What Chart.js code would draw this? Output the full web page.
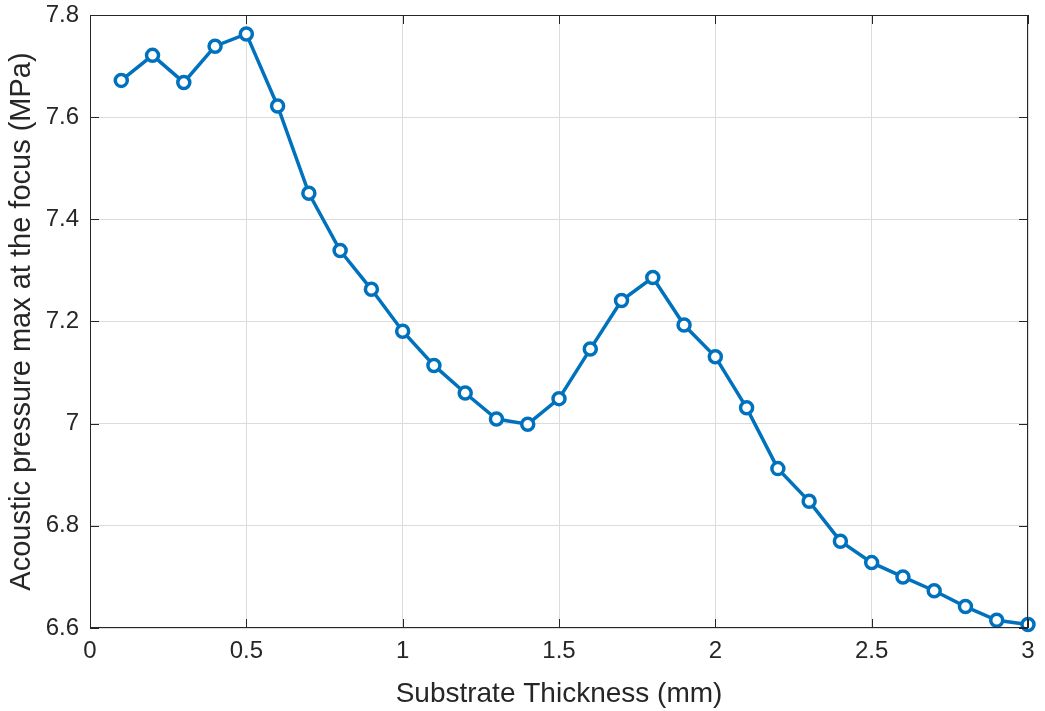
<!DOCTYPE html>
<html>
<head>
<meta charset="utf-8">
<script src="https://cdn.jsdelivr.net/npm/chart.js@4"></script>
<style>
  html, body { margin: 0; padding: 0; background: #fff; }
  #box { width: 1045px; height: 711px; }
</style>
</head>
<body>
<div id="box"><canvas id="grafico" width="1045" height="711"></canvas></div>
<script>
// Dados
var espessura = [0.1, 0.2, 0.3, 0.4, 0.5, 0.6, 0.7, 0.8, 0.9, 1.0,
                 1.1, 1.2, 1.3, 1.4, 1.5, 1.6, 1.7, 1.8, 1.9, 2.0,
                 2.1, 2.2, 2.3, 2.4, 2.5, 2.6, 2.7, 2.8, 2.9, 3.0];
var pressao = [7.672, 7.721, 7.668, 7.739, 7.763, 7.622, 7.451, 7.339, 7.263, 7.181,
               7.114, 7.060, 7.009, 6.999, 7.049, 7.146, 7.241, 7.286, 7.193, 7.131,
               7.031, 6.912, 6.848, 6.770, 6.728, 6.700, 6.673, 6.642, 6.615, 6.607];
var xTicks = [0, 0.5, 1, 1.5, 2, 2.5, 3];
var yTicks = [6.6, 6.8, 7, 7.2, 7.4, 7.6, 7.8];

var pontos = espessura.map(function (x, i) { return { x: x, y: pressao[i] }; });

var corTexto = '#262626';
var fonte = '"Liberation Sans", Arial, sans-serif';

// Moldura e marcas internas (estilo MATLAB)
var moldura = {
  id: 'moldura',
  afterDraw: function (chart) {
    var ctx = chart.ctx, a = chart.chartArea;
    var sx = chart.scales.x, sy = chart.scales.y;
    ctx.save();
    ctx.strokeStyle = '#262626';
    ctx.lineWidth = 1;
    ctx.strokeRect(a.left + 0.5, a.top + 0.5, a.right - a.left - 1, a.bottom - a.top - 1);
    ctx.beginPath();
    xTicks.forEach(function (v) {
      var px = Math.round(sx.getPixelForValue(v)) + 0.5;
      ctx.moveTo(px, a.bottom); ctx.lineTo(px, a.bottom - 9);
      ctx.moveTo(px, a.top); ctx.lineTo(px, a.top + 9);
    });
    yTicks.forEach(function (v) {
      var py = Math.round(sy.getPixelForValue(v)) + 0.5;
      ctx.moveTo(a.left, py); ctx.lineTo(a.left + 9, py);
      ctx.moveTo(a.right, py); ctx.lineTo(a.right - 9, py);
    });
    ctx.stroke();
    ctx.restore();
  }
};

new Chart(document.getElementById('grafico'), {
  type: 'line',
  data: {
    datasets: [{
      data: pontos,
      borderColor: '#0072BD',
      borderWidth: 3.5,
      pointRadius: 6,
      pointBorderWidth: 3.5,
      pointBackgroundColor: '#ffffff',
      pointBorderColor: '#0072BD',
      tension: 0,
      clip: false
    }]
  },
  options: {
    responsive: false,
    animation: false,
    layout: { padding: { left: 0, top: 15, right: 17, bottom: 0 } },
    plugins: { legend: { display: false }, tooltip: { enabled: false } },
    scales: {
      x: {
        type: 'linear',
        min: 0, max: 3,
        afterBuildTicks: function (s) { s.ticks = xTicks.map(function (v) { return { value: v }; }); },
        afterFit: function (s) { s.height = 83; s.paddingLeft = 0; s.paddingRight = 0; },
        grid: { color: '#dcdcdc', drawTicks: false },
        border: { display: false },
        ticks: {
          padding: 9,
          color: corTexto,
          font: { family: fonte, size: 24 },
          callback: function (v) { return String(parseFloat(v.toFixed(1))); }
        },
        title: {
          display: true,
          text: 'Substrate Thickness (mm)',
          color: corTexto,
          font: { family: fonte, size: 28 },
          padding: { top: 0, bottom: 0 }
        }
      },
      y: {
        type: 'linear',
        min: 6.6, max: 7.8,
        afterBuildTicks: function (s) { s.ticks = yTicks.map(function (v) { return { value: v }; }); },
        afterFit: function (s) { s.width = 90; s.paddingTop = 0; s.paddingBottom = 0; },
        grid: { color: '#dcdcdc', drawTicks: false },
        border: { display: false },
        ticks: {
          padding: 11,
          color: corTexto,
          font: { family: fonte, size: 24 },
          callback: function (v) { return String(parseFloat(v.toFixed(1))); }
        },
        title: {
          display: true,
          text: 'Acoustic pressure max at the focus (MPa)',
          color: corTexto,
          font: { family: fonte, size: 29 },
          padding: { top: 5, bottom: 0 }
        }
      }
    }
  },
  plugins: [moldura]
});
</script>
</body>
</html>
